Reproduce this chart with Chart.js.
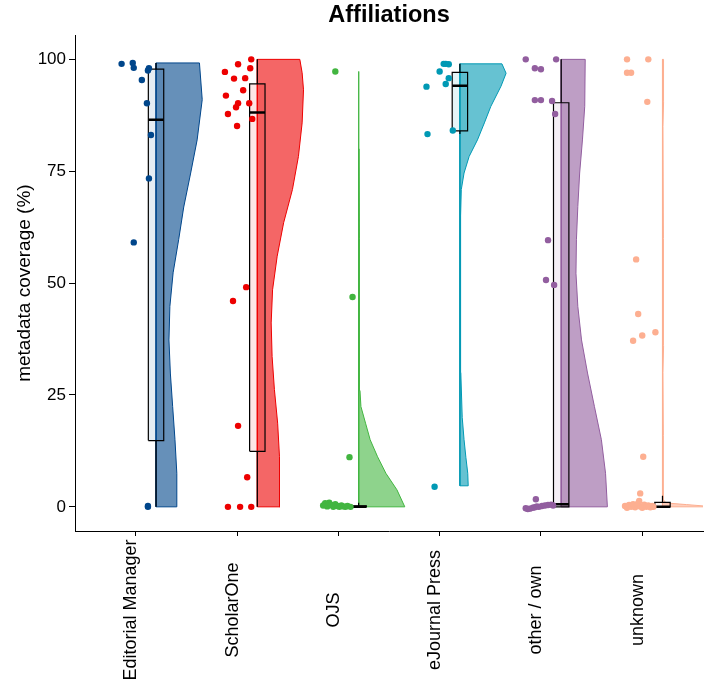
<!DOCTYPE html>
<html>
<head>
<meta charset="utf-8">
<script src="https://cdn.jsdelivr.net/npm/chart.js@4.4.1/dist/chart.umd.min.js"></script>
<style>
  html, body { margin: 0; padding: 0; background: #fff; }
</style>
</head>
<body>
<canvas id="grafico" width="707" height="681"></canvas>
<script>
// ===== 1. Categorias e cores =====
const categorias = ['Editorial Manager', 'ScholarOne', 'OJS', 'eJournal Press', 'other / own', 'unknown'];
const cores = ['#00468B', '#ED0000', '#42B540', '#0099B4', '#925E9F', '#FDAF91'];
const yTicks = [0, 25, 50, 75, 100];

// ===== 2. Boxplot =====
const boxMin     = [0,    0,    0,   83.3, 0,    0];
const boxQ1      = [14.8, 12.4, 0,   84.0, 0,    0];
const boxMediana = [86.5, 88.1, 0,   94.1, 0.6,  0];
const boxQ3      = [97.8, 94.5, 0.2, 97.1, 90.3, 1.0];
const boxMax     = [99.2, 100,  0.9, 99.0, 100,  2.5];

// ===== 3. Violinos (meia densidade, normalizada) =====
const violinNiveis = [
  [0, 7.5, 15, 22.4, 29.9, 37.3, 44.8, 52.3, 59.7, 67, 74.6, 82, 91, 99.2],
  [0, 11.2, 18.7, 26.2, 33.6, 41.1, 48.5, 56, 63.5, 70.9, 78.3, 85.8, 93.2, 97, 100],
  [0, 3.8, 7.5, 11.2, 15, 18.7, 22.4, 26, 35, 45, 47, 50, 60, 80, 97.3],
  [4.7, 7.5, 11, 15, 20, 30, 50, 65, 70.9, 74.6, 78.3, 82, 85.8, 89.5, 94, 96.9, 99],
  [0, 7.5, 15, 22.4, 29.9, 37.3, 44.8, 52.2, 59.7, 67.1, 74.6, 82, 89.5, 100],
  [0, 0.1, 0.2, 0.5, 0.8, 1.0, 1.5, 2.2, 3, 4, 6, 11, 16, 30, 36, 38, 39, 41, 43, 45, 50, 55, 60, 85, 90.5, 94, 97, 100]
];
const violinDensidade = [
  [0.45, 0.45, 0.41, 0.36, 0.31, 0.28, 0.30, 0.37, 0.49, 0.60, 0.75, 0.89, 1.00, 0.94],
  [0.49, 0.48, 0.44, 0.37, 0.32, 0.30, 0.33, 0.43, 0.57, 0.76, 0.89, 0.97, 1.00, 0.97, 0.92],
  [1.00, 0.83, 0.59, 0.41, 0.25, 0.15, 0.05, 0.03, 0.013, 0.02, 0.026, 0.02, 0.01, 0.007, 0.007],
  [0.18, 0.17, 0.13, 0.09, 0.05, 0.02, 0.015, 0.015, 0.03, 0.09, 0.20, 0.38, 0.53, 0.67, 0.89, 1.00, 0.91],
  [1.00, 0.96, 0.87, 0.72, 0.57, 0.44, 0.36, 0.32, 0.33, 0.36, 0.40, 0.46, 0.51, 0.52],
  [1.0, 0.96, 0.89, 0.52, 0.16, 0.065, 0.026, 0.02, 0.026, 0.017, 0.013, 0.026, 0.013, 0.011, 0.024, 0.03, 0.028, 0.02, 0.024, 0.013, 0.013, 0.024, 0.013, 0.011, 0.024, 0.015, 0.028, 0.026]
];

// ===== 4. Pontos (valor + deslocamento horizontal) =====
const pontosValores = [
  [99.0, 99.2, 98.1, 98.0, 97.5, 95.4, 90.2, 83.1, 73.4, 59.1, 0.2, 0],
  [100, 98.9, 98.0, 97.2, 95.7, 95.8, 93.1, 91.9, 90.2, 90.2, 89.3, 87.8, 86.7, 85.1, 49.1, 46.0, 18.1, 6.6, 0, 0, 0],
  [97.3, 46.9, 11.1, 0.3, 0.8, 0.1, 0.9, 0.4, 0.0, 0.6, 0.2, 0.0, 0.3, 0.1, 0.0, 0.2, 0.0],
  [99.0, 99.0, 98.9, 97.3, 95.8, 94.5, 93.9, 83.3, 84.1, 4.5],
  [100, 100, 98.0, 97.8, 90.9, 90.9, 90.7, 87.8, 59.6, 50.7, 49.6, 1.7, -0.3, -0.5, -0.4, -0.2, -0.1, 0.1, 0.0, 0.2, 0.3, 0.4, 0.5, 0.3],
  [100, 100, 97.0, 97.0, 90.5, 55.3, 43.1, 38.3, 39.0, 37.1, 11.2, 3.0, 1.3,
   0.2, -0.2, 0.4, 0.0, 0.6, -0.1, 0.3, 0.8, 0.1, -0.2, 0.5, 0.0, 0.3, -0.1, 0.2, 0.0]
];
const pontosJitter = [
  [-0.14, -0.03, -0.02, 0.13, 0.12, 0.06, 0.11, 0.15, 0.13, -0.02, 0.12, 0.12],
  [0.14, 0.01, 0.13, -0.12, -0.03, 0.08, 0.06, -0.11, 0.01, 0.12, -0.01, -0.09, 0.15, 0.00, 0.09, -0.04, 0.01, 0.10, -0.09, 0.03, 0.14],
  [-0.03, 0.14, 0.11, -0.15, -0.13, -0.11, -0.09, -0.07, -0.05, -0.03, -0.01, 0.01, 0.03, 0.05, 0.07, 0.09, 0.12],
  [0.04, 0.06, 0.09, 0.00, 0.09, 0.06, -0.13, -0.12, 0.13, -0.05],
  [-0.15, 0.15, -0.06, 0.00, -0.06, 0.00, 0.11, 0.14, 0.07, 0.05, 0.13, -0.05, -0.15, -0.13, -0.11, -0.08, -0.06, -0.04, -0.02, 0.01, 0.04, 0.07, 0.10, 0.12],
  [-0.15, 0.06, -0.15, -0.11, 0.05, -0.06, -0.04, 0.00, 0.13, -0.09, 0.01, -0.02, -0.03,
   -0.17, -0.15, -0.13, -0.11, -0.09, -0.07, -0.05, -0.04, -0.02, 0.00, 0.02, 0.04, 0.06, 0.08, 0.10, 0.11]
];

// ===== 5. Geometria =====
const DESLOC = 0.2;        // box e violino deslocados para a direita
const MEIA_CAIXA = 0.076;  // meia largura da caixa
const VIOLINO_MAX = 0.456; // largura maxima do violino

function rgba(hex, a) {
  const n = parseInt(hex.slice(1), 16);
  return `rgba(${(n >> 16) & 255}, ${(n >> 8) & 255}, ${n & 255}, ${a})`;
}

const datasets = [];

categorias.forEach((cat, i) => {
  const pos = i + 1;
  const base = pos + DESLOC;
  const cor = cores[i];

  // violino
  const niveis = violinNiveis[i];
  const contorno = [{ x: base, y: niveis[0] }];
  niveis.forEach((v, j) => contorno.push({ x: base + violinDensidade[i][j] * VIOLINO_MAX, y: v }));
  contorno.push({ x: base, y: niveis[niveis.length - 1] });
  contorno.push({ x: base, y: niveis[0] });

  datasets.push({
    type: 'line',
    data: contorno,
    borderColor: cor,
    borderWidth: 1,
    backgroundColor: rgba(cor, 0.6),
    fill: 'shape',
    pointRadius: 0,
    tension: 0,
    order: 5
  });

  // bigodes
  [[boxQ3[i], boxMax[i]], [boxMin[i], boxQ1[i]]].forEach(([a, b]) => {
    datasets.push({
      type: 'line',
      data: [{ x: base, y: a }, { x: base, y: b }],
      borderColor: '#000',
      borderWidth: 1.2,
      pointRadius: 0,
      fill: false,
      order: 4
    });
  });

  // caixa
  datasets.push({
    type: 'line',
    data: [
      { x: base - MEIA_CAIXA, y: boxQ1[i] },
      { x: base + MEIA_CAIXA, y: boxQ1[i] },
      { x: base + MEIA_CAIXA, y: boxQ3[i] },
      { x: base - MEIA_CAIXA, y: boxQ3[i] },
      { x: base - MEIA_CAIXA, y: boxQ1[i] }
    ],
    borderColor: '#000',
    borderWidth: 1.2,
    backgroundColor: rgba(cor, 0.1),
    fill: 'shape',
    pointRadius: 0,
    tension: 0,
    order: 3
  });

  // mediana
  datasets.push({
    type: 'line',
    data: [{ x: base - MEIA_CAIXA, y: boxMediana[i] }, { x: base + MEIA_CAIXA, y: boxMediana[i] }],
    borderColor: '#000',
    borderWidth: 2.5,
    pointRadius: 0,
    fill: false,
    order: 2
  });

  // pontos
  datasets.push({
    type: 'scatter',
    data: pontosValores[i].map((v, k) => ({ x: pos + pontosJitter[i][k], y: v })),
    backgroundColor: cor,
    borderWidth: 0,
    pointRadius: 3.2,
    order: 1
  });
});

// ===== 6. Rotulos do eixo x (verticais, centrados como no ggplot) =====
const fonte = "'Liberation Sans', Arial, Helvetica, sans-serif";

const rotulosX = {
  id: 'rotulosX',
  afterDraw(chart) {
    const { ctx } = chart;
    const x = chart.scales.x;
    ctx.save();
    ctx.fillStyle = '#000';
    ctx.font = `18px ${fonte}`;
    ctx.textAlign = 'center';
    ctx.textBaseline = 'alphabetic';
    categorias.forEach((c, i) => {
      ctx.save();
      ctx.translate(x.getPixelForValue(i + 1) + 0.5, x.top + 79);
      ctx.rotate(-Math.PI / 2);
      ctx.fillText(c, 0, 0);
      ctx.restore();
    });
    ctx.restore();
  }
};

// ===== 7. Grafico =====
new Chart(document.getElementById('grafico'), {
  type: 'scatter',
  data: { datasets },
  plugins: [rotulosX],
  options: {
    responsive: false,
    devicePixelRatio: 1,
    animation: false,
    layout: { padding: 0 },
    plugins: {
      legend: { display: false },
      tooltip: { enabled: false },
      title: {
        display: true,
        text: 'Affiliations',
        fullSize: false,
        color: '#000',
        font: { family: fonte, size: 23.5, weight: 'bold' },
        padding: { top: 1, bottom: 6 }
      }
    },
    scales: {
      x: {
        type: 'linear',
        min: 0.4,
        max: 6.6,
        afterBuildTicks: s => { s.ticks = categorias.map((c, i) => ({ value: i + 1 })); },
        afterFit: s => { s.height = 150; },
        ticks: { display: false },
        grid: { drawOnChartArea: false, drawTicks: true, tickLength: 5, color: '#000' },
        border: { display: true, color: '#000', width: 1 }
      },
      y: {
        min: -5.4,
        max: 105.4,
        afterBuildTicks: s => { s.ticks = yTicks.map(v => ({ value: v })); },
        afterFit: s => { s.width = 75; },
        ticks: {
          padding: 3,
          color: '#000',
          font: { family: fonte, size: 17 }
        },
        title: {
          display: true,
          text: 'metadata coverage (%)',
          color: '#000',
          font: { family: fonte, size: 19 },
          padding: { top: 13, bottom: 0 }
        },
        grid: { drawOnChartArea: false, drawTicks: true, tickLength: 6, color: '#000' },
        border: { display: true, color: '#000', width: 1 }
      }
    }
  }
});
</script>
</body>
</html>
